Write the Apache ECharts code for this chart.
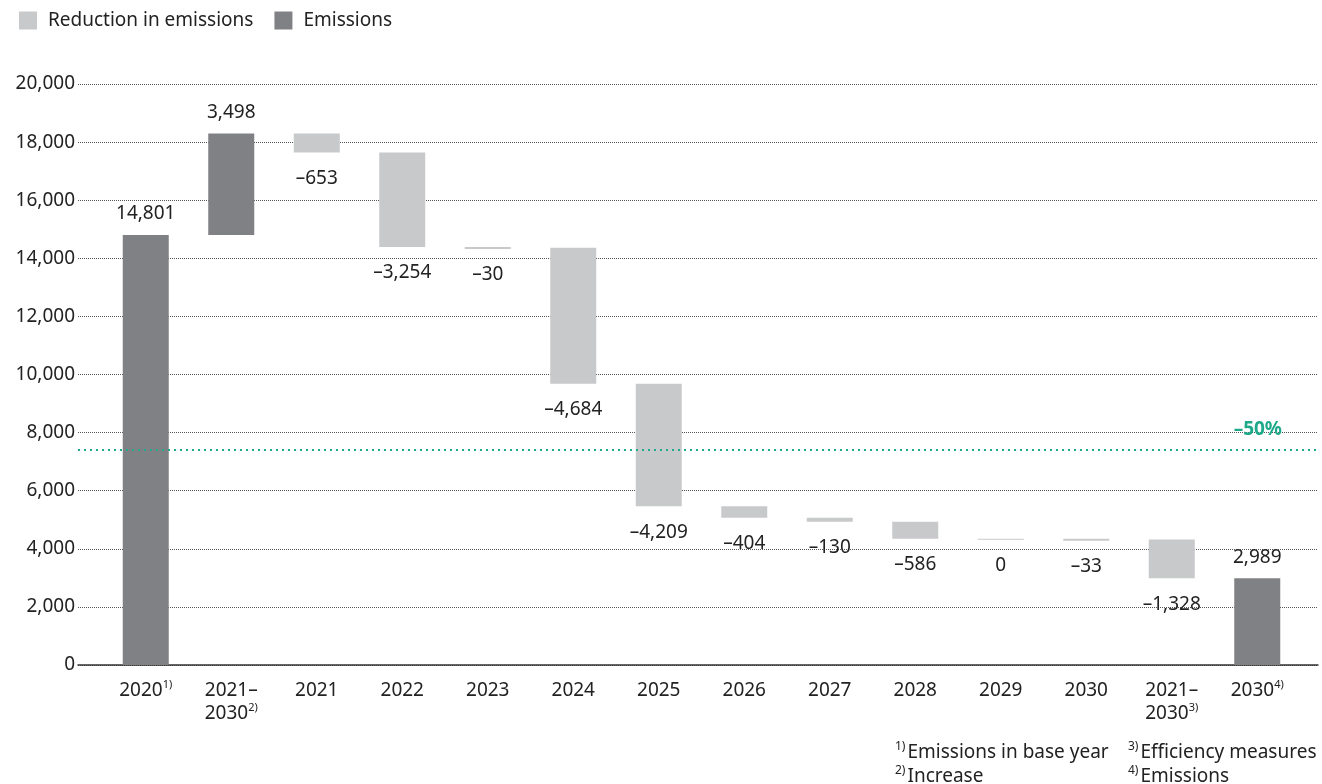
<!DOCTYPE html>
<html>
<head>
<meta charset="utf-8">
<script src="https://cdn.jsdelivr.net/npm/echarts@6/dist/echarts.min.js"></script>
<style>html,body{margin:0;padding:0;background:#fff;}#c{width:1322px;height:784px;}</style>
</head>
<body>
<div id="c"></div>
<script>
// ---- data ----
var categories = ['2020{s|1)}', '2021–\n2030{s|2)}', '2021', '2022', '2023', '2024', '2025', '2026', '2027', '2028', '2029', '2030', '2021–\n2030{s|3)}', '2030{s|4)}'];
var values = [14801, 3498, -653, -3254, -30, -4684, -4209, -404, -130, -586, 0, -33, -1328, 2989];
var kinds = ['total', 'increase', 'red', 'red', 'red', 'red', 'red', 'red', 'red', 'red', 'red', 'red', 'red', 'total'];
var yTicks = { min: 0, max: 20000, interval: 2000 };
var targetValue = 14801 * 0.5;
var targetLabel = '–50%';
var notesLeft = '{s|1)}Emissions in base year\n{s|2)}Increase';
var notesRight = '{s|3)}Efficiency measures\n{s|4)}Emissions';

var FONT = 'Noto Sans';
var FS = 19;
var DARK = '#808184', LIGHT = '#c8c9cb', GREEN = '#1ea98a', TXT = '#222';

// build waterfall ranges
var emisData = [], redData = [];
var level = 0;
values.forEach(function (v, i) {
  var low, high;
  if (kinds[i] === 'total') { low = 0; high = v; level = v; }
  else { var nl = level + v; low = Math.min(level, nl); high = Math.max(level, nl); level = nl; }
  var item = [i, low, high, v];
  if (kinds[i] === 'red') redData.push(item); else emisData.push(item);
});

function fmt(v) {
  var s = Math.abs(v).toLocaleString('en-US');
  return v < 0 ? '–' + s : s;
}

function renderItem(params, api) {
  var i = api.value(0), low = api.value(1), high = api.value(2), v = api.value(3);
  var pTop = api.coord([i, high]);
  var pBot = api.coord([i, low]);
  var w = 46;
  var h = pBot[1] - pTop[1];
  var y = pTop[1];
  if (v === 0) { h = 1; }
  else if (h < 2) { h = 2; }
  var isDown = v <= 0;
  var labelY = isDown ? (y + h + 26) : (y - 21);
  return {
    type: 'group',
    children: [
      { type: 'rect', shape: { x: pTop[0] - w / 2, y: y, width: w, height: h }, style: { fill: api.visual('color') } },
      { type: 'text', style: { text: fmt(v), x: pTop[0], y: labelY, align: 'center', verticalAlign: 'middle', fill: TXT, fontSize: FS, fontFamily: FONT } }
    ]
  };
}

// wrap plain text runs in {n|...} tokens so they get the main style
function wrapRich(text) {
  return text.split('\n').map(function (line) {
    return line.replace(/(^|\})([^{}]+)/g, '$1{n|$2}');
  }).join('\n');
}

var chart = echarts.init(document.getElementById('c'), null, { renderer: 'canvas' });
var richAxis = {
  n: { fontSize: FS, lineHeight: 23, fontFamily: FONT, color: TXT },
  s: { fontSize: 11, lineHeight: 12, verticalAlign: 'top', fontFamily: FONT, color: TXT }
};
var richNote = {
  n: { fontSize: FS, lineHeight: 24, fontFamily: FONT, fill: TXT },
  s: { fontSize: 12, lineHeight: 13, verticalAlign: 'top', fontFamily: FONT, fill: TXT, padding: [0, 2, 0, 0] }
};
chart.setOption({
  backgroundColor: '#fff',
  animation: false,
  textStyle: { fontFamily: FONT },
  legend: {
    data: ['Reduction in emissions', 'Emissions'],
    left: 19, top: 11, padding: 0, itemWidth: 18, itemHeight: 18, itemGap: 21, icon: 'rect',
    textStyle: { fontSize: FS, color: TXT, fontFamily: FONT, padding: [0, 0, 0, 6] }
  },
  grid: [
    { left: 78, right: 4, top: 84, bottom: 119 },
    { left: 103, right: 22, top: 84, bottom: 119 }
  ],
  xAxis: [
    { type: 'value', gridIndex: 0, min: 0, max: 1, axisLabel: { show: false }, axisTick: { show: false }, splitLine: { show: false },
      axisLine: { show: true, lineStyle: { color: '#333', width: 1.5 } } },
    { type: 'category', gridIndex: 1, data: categories, axisLine: { show: false }, axisTick: { show: false },
      axisLabel: { interval: 0, margin: 14, fontSize: FS, lineHeight: 23, color: TXT, fontFamily: FONT, rich: richAxis, formatter: wrapRich } }
  ],
  yAxis: [
    { type: 'value', gridIndex: 0, min: yTicks.min, max: yTicks.max, interval: yTicks.interval,
      axisLine: { show: false }, axisTick: { show: false },
      axisLabel: { margin: 3, fontSize: FS, color: TXT, fontFamily: FONT, formatter: function (v) { return v.toLocaleString('en-US'); } },
      splitLine: { show: true, lineStyle: { color: '#555', type: [1, 1], width: 1 } } },
    { type: 'value', gridIndex: 1, min: yTicks.min, max: yTicks.max, interval: yTicks.interval, show: false, splitLine: { show: false } }
  ],
  series: [
    { name: 'Reduction in emissions', type: 'custom', xAxisIndex: 1, yAxisIndex: 1, itemStyle: { color: LIGHT },
      renderItem: renderItem, data: redData, encode: { x: 0, y: [1, 2] } },
    { name: 'Emissions', type: 'custom', xAxisIndex: 1, yAxisIndex: 1, itemStyle: { color: DARK },
      renderItem: renderItem, data: emisData, encode: { x: 0, y: [1, 2] } },
    { name: 'target', type: 'line', xAxisIndex: 0, yAxisIndex: 0, data: [], silent: true,
      markLine: { symbol: 'none', silent: true, animation: false,
        lineStyle: { color: GREEN, type: [2, 4], width: 2 },
        label: { show: true, position: 'insideEndTop', formatter: targetLabel, color: GREEN, fontWeight: 'bold', fontSize: FS, fontFamily: FONT, padding: [0, 31, 6, 0] },
        data: [{ yAxis: targetValue }] } }
  ],
  graphic: [
    { type: 'text', left: 895, top: 741, style: { text: wrapRich(notesLeft), fill: TXT, fontFamily: FONT, rich: richNote } },
    { type: 'text', left: 1128, top: 741, style: { text: wrapRich(notesRight), fill: TXT, fontFamily: FONT, rich: richNote } }
  ]
});
</script>
</body>
</html>
